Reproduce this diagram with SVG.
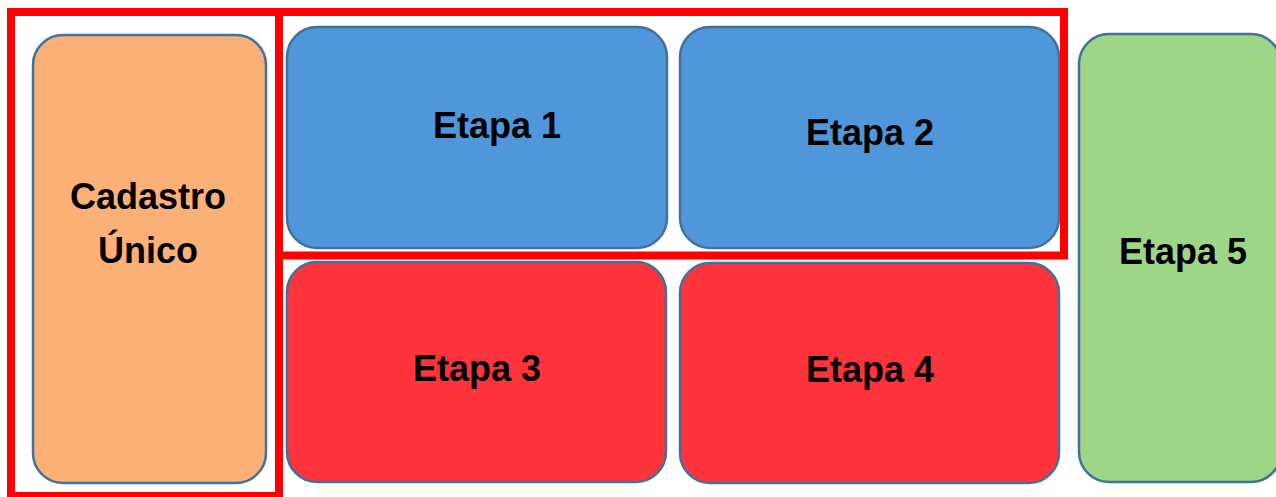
<svg xmlns="http://www.w3.org/2000/svg" width="1276" height="497" viewBox="0 0 1276 497">
<style>
.box{stroke:#41719C;stroke-width:2.5}
.frame{fill:none;stroke:#FF0000;stroke-width:8}
.t{font-family:"Liberation Sans",Arial,sans-serif;font-weight:bold;font-size:36px;fill:#000;text-anchor:middle}
</style>
<rect width="1276" height="497" fill="#fff"/>
<g id="cadastro">
<rect class="box" x="33" y="35" width="233" height="448" rx="30" fill="#FBB078"/>
<text class="t" x="148" y="209">Cadastro</text>
<text class="t" x="148" y="263">Único</text>
</g>
<g id="etapa1">
<rect class="box" x="287" y="27" width="380" height="221" rx="30" fill="#4F97DA"/>
<text class="t" x="497" y="138">Etapa 1</text>
</g>
<g id="etapa2">
<rect class="box" x="680" y="27" width="379" height="221" rx="30" fill="#4F97DA"/>
<text class="t" x="870" y="145">Etapa 2</text>
</g>
<g id="etapa3">
<rect class="box" x="287" y="262" width="379" height="220" rx="30" fill="#FF333B"/>
<text class="t" x="477" y="381">Etapa 3</text>
</g>
<g id="etapa4">
<rect class="box" x="680" y="263" width="379" height="220" rx="30" fill="#FF333B"/>
<text class="t" x="870" y="382">Etapa 4</text>
</g>
<g id="etapa5">
<rect class="box" x="1079" y="34" width="202" height="448" rx="30" fill="#9ED688"/>
<text class="t" x="1183" y="264">Etapa 5</text>
</g>
<g id="frames">
<rect class="frame" x="11" y="12" width="268" height="484"/>
<rect class="frame" x="279" y="12" width="785" height="243.5"/>
</g>
<g id="connectors"></g>
</svg>
